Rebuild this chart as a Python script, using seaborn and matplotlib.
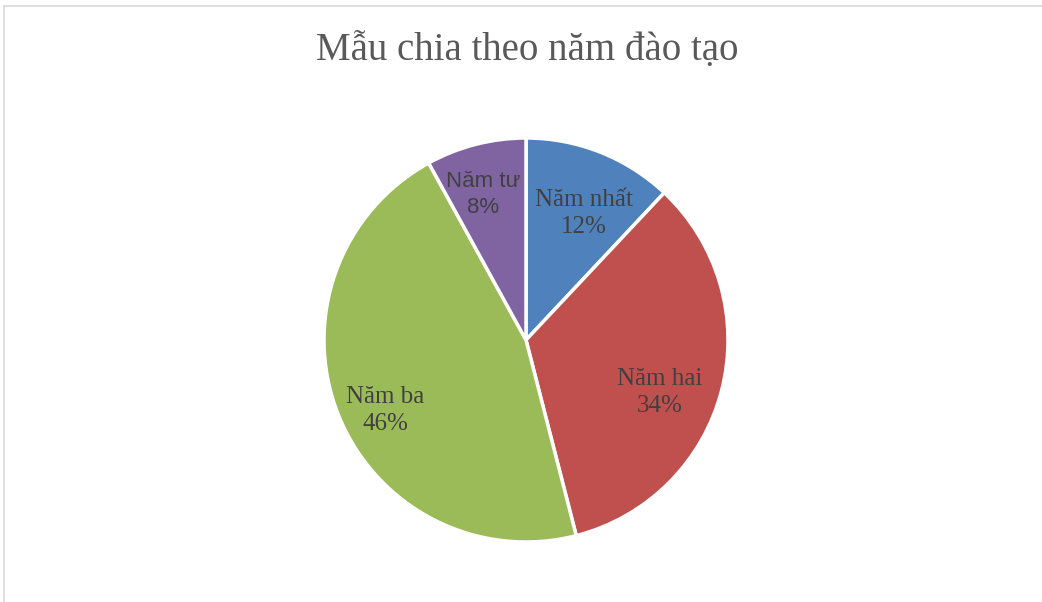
import numpy as np
import matplotlib
matplotlib.use("Agg")
import matplotlib.pyplot as plt
import seaborn as sns

categories = ["Năm nhất", "Năm hai", "Năm ba", "Năm tư"]
values = [12, 34, 46, 8]
colors = ["#4F81BD", "#C0504D", "#9BBB59", "#8064A2"]
title = "Mẫu chia theo năm đào tạo"

sns.set_theme(style="white")
plt.rcParams['font.family'] = ['Liberation Serif', 'DejaVu Serif']

W, H = 1042, 602
fig = plt.figure(figsize=(W / 100, H / 100), dpi=100)
fig.patch.set_facecolor("white")

# chart border (top and left visible)
fig.add_artist(plt.Line2D([4 / W, 4 / W], [0, 1 - 6 / H], color="#D9D9D9", lw=1.2))
fig.add_artist(plt.Line2D([4 / W, 1], [1 - 6 / H, 1 - 6 / H], color="#D9D9D9", lw=1.2))

cx, cy, r = 526, 340, 202
ax = fig.add_axes([(cx - r) / W, (H - cy - r) / H, 2 * r / W, 2 * r / H])
palette = sns.color_palette(colors)
wedges, _ = ax.pie(values, colors=palette, startangle=90, counterclock=False,
                   radius=1.0, wedgeprops=dict(edgecolor="white", linewidth=2.5))
ax.set_xlim(-1, 1)
ax.set_ylim(-1, 1)
ax.set_aspect("auto")
ax.axis("off")

label_r = [0.69, 0.71, 0.78, 0.75]
label_shift = [-3, -7, 5, 2]
fams = [['Liberation Serif'], ['Liberation Serif'], ['Liberation Serif'], ['Liberation Sans']]
sizes = [18, 18, 18, 16]
total = sum(values)
for w, cat, v, lr, sh, fam, fs in zip(wedges, categories, values, label_r, label_shift, fams, sizes):
    ang = np.deg2rad((w.theta1 + w.theta2) / 2 + sh)
    ax.text(lr * np.cos(ang), lr * np.sin(ang), f"{cat}\n{round(100 * v / total)}%",
            ha="center", va="center", fontsize=fs, color="#404040",
            family=fam, linespacing=1.3)

fig.text(527 / W, 1 - 50 / H, title, ha="center", va="center",
         fontsize=28, color="#595959", family=['Liberation Serif', 'DejaVu Serif'])

fig.savefig("out.png", dpi=100, facecolor="white")
